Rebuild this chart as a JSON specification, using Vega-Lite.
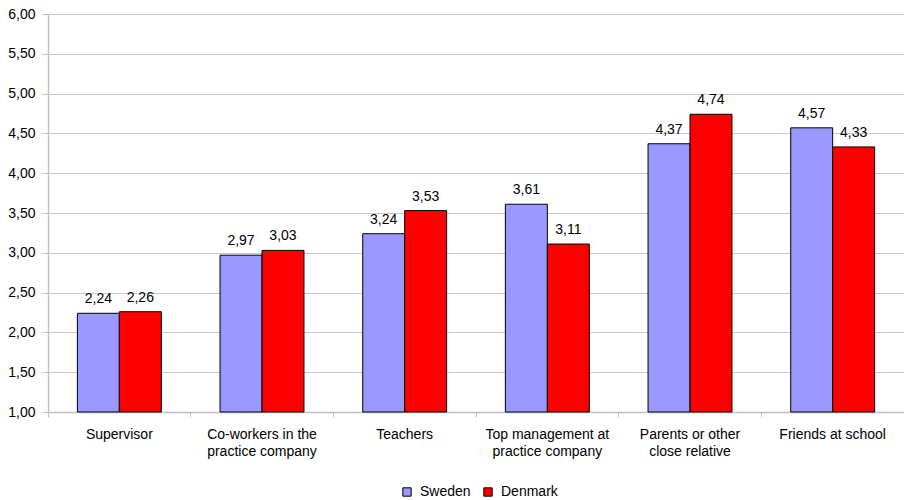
{
  "$schema": "https://vega.github.io/schema/vega-lite/v6.json",
  "width": 856,
  "height": 398,
  "autosize": "none",
  "padding": {"left": 48, "top": 14, "right": 0, "bottom": 88},
  "config": {
    "locale": {"number": {"decimal": ",", "thousands": ".", "grouping": [3], "currency": ["", ""]}},
    "font": "Liberation Sans",
    "view": {"stroke": null},
    "background": "white"
  },
  "data": {
    "values": [
      {"cat": "Supervisor", "country": "Sweden", "v": 2.24},
      {"cat": "Supervisor", "country": "Denmark", "v": 2.26},
      {"cat": "Co-workers in the|practice company", "country": "Sweden", "v": 2.97},
      {"cat": "Co-workers in the|practice company", "country": "Denmark", "v": 3.03},
      {"cat": "Teachers", "country": "Sweden", "v": 3.24},
      {"cat": "Teachers", "country": "Denmark", "v": 3.53},
      {"cat": "Top management at|practice company", "country": "Sweden", "v": 3.61},
      {"cat": "Top management at|practice company", "country": "Denmark", "v": 3.11},
      {"cat": "Parents or other|close relative", "country": "Sweden", "v": 4.37},
      {"cat": "Parents or other|close relative", "country": "Denmark", "v": 4.74},
      {"cat": "Friends at school", "country": "Sweden", "v": 4.57},
      {"cat": "Friends at school", "country": "Denmark", "v": 4.33}
    ]
  },
  "encoding": {
    "x": {
      "field": "cat", "type": "nominal", "sort": null,
      "scale": {"paddingInner": 0, "paddingOuter": 0},
      "axis": {
        "title": null, "labelAngle": 0, "labelExpr": "split(datum.label, '|')",
        "labelFont": "Liberation Sans", "labelFontSize": 14, "labelColor": "black",
        "labelPadding": 10, "labelLineHeight": 17,
        "bandPosition": 0, "ticks": true, "tickSize": 5, "tickColor": "#c0c0c0",
        "domainColor": "#c0c0c0", "domainWidth": 1.5, "grid": false
      }
    },
    "xOffset": {
      "field": "country", "type": "nominal", "sort": ["Sweden", "Denmark"],
      "scale": {"paddingInner": 0, "paddingOuter": 0.7}
    },
    "y": {
      "field": "v", "type": "quantitative",
      "scale": {"domain": [1, 6], "nice": false, "zero": false},
      "axis": {
        "title": null, "values": [1, 1.5, 2, 2.5, 3, 3.5, 4, 4.5, 5, 5.5, 6],
        "format": ".2f", "labelFont": "Liberation Sans", "labelFontSize": 14, "labelColor": "black",
        "labelPadding": 7, "tickSize": 6, "tickColor": "#c0c0c0",
        "domainColor": "#c0c0c0", "domainWidth": 1.5,
        "grid": true, "gridColor": "#c8c8c8", "gridWidth": 1
      }
    }
  },
  "layer": [
    {
      "mark": {"type": "bar", "stroke": "black", "strokeWidth": 1},
      "encoding": {
        "y2": {"datum": 1},
        "color": {
          "field": "country", "type": "nominal",
          "scale": {"domain": ["Sweden", "Denmark"], "range": ["#9999ff", "#ff0000"]},
          "legend": {
            "title": null, "orient": "none", "direction": "horizontal",
            "legendX": 352, "legendY": 471,
            "symbolType": "square", "symbolSize": 70, "symbolStrokeColor": "black", "symbolStrokeWidth": 1,
            "labelFont": "Liberation Sans", "labelFontSize": 14, "labelColor": "black",
            "columnPadding": 10, "labelOffset": 6
          }
        }
      }
    },
    {
      "mark": {"type": "text", "baseline": "bottom", "dy": -7, "fontSize": 14, "font": "Liberation Sans", "color": "black"},
      "encoding": {
        "text": {"field": "v", "type": "quantitative", "format": ".2f"}
      }
    }
  ]
}
